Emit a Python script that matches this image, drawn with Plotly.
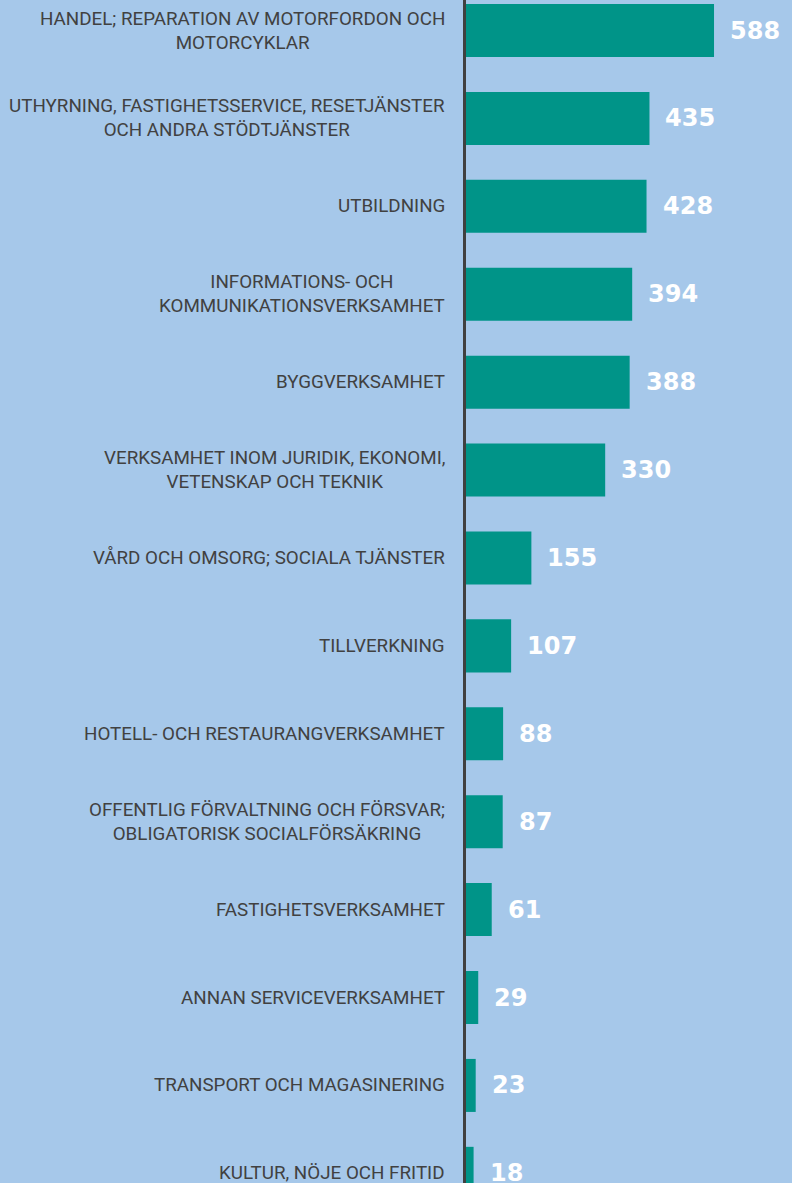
import plotly.graph_objects as go

categories = [
    "HANDEL; REPARATION AV MOTORFORDON OCH<br>MOTORCYKLAR",
    "UTHYRNING, FASTIGHETSSERVICE, RESETJÄNSTER<br>OCH ANDRA STÖDTJÄNSTER",
    "UTBILDNING",
    "INFORMATIONS- OCH<br>KOMMUNIKATIONSVERKSAMHET",
    "BYGGVERKSAMHET",
    "VERKSAMHET INOM JURIDIK, EKONOMI,<br>VETENSKAP OCH TEKNIK",
    "VÅRD OCH OMSORG; SOCIALA TJÄNSTER",
    "TILLVERKNING",
    "HOTELL- OCH RESTAURANGVERKSAMHET",
    "OFFENTLIG FÖRVALTNING OCH FÖRSVAR;<br>OBLIGATORISK SOCIALFÖRSÄKRING",
    "FASTIGHETSVERKSAMHET",
    "ANNAN SERVICEVERKSAMHET",
    "TRANSPORT OCH MAGASINERING",
    "KULTUR, NÖJE OCH FRITID",
]
values = [588, 435, 428, 394, 388, 330, 155, 107, 88, 87, 61, 29, 23, 18]

BG = "#a6c8ea"
BAR = "#009488"
TXT = "#414141"

idx = list(range(len(categories)))

fig = go.Figure()
fig.add_trace(go.Bar(
    x=values, y=idx, orientation="h",
    marker=dict(color=BAR, line=dict(width=0)),
    width=0.603, hoverinfo="skip",
))

annotations = []
for i, (c, v) in enumerate(zip(categories, values)):
    annotations.append(dict(
        x=0, y=i, xref="x", yref="y", text=c, showarrow=False,
        xanchor="right", yanchor="middle", align="center", xshift=-19,
        font=dict(family="Roboto", size=18.8, color=TXT),
    ))
    annotations.append(dict(
        x=v, y=i, xref="x", yref="y", text=str(v), showarrow=False,
        xanchor="left", yanchor="middle", xshift=14,
        font=dict(family="DejaVu Sans", size=24, color="white", weight="bold"),
    ))

fig.update_layout(
    width=792, height=1183,
    margin=dict(l=0, r=0, t=0, b=0),
    paper_bgcolor=BG, plot_bgcolor=BG,
    showlegend=False,
    annotations=annotations,
    xaxis=dict(domain=[466/792, 1], range=[0, (792-466)/0.4218],
               showgrid=False, zeroline=False, showticklabels=False, showline=False),
    yaxis=dict(range=[13.11, -0.347], showgrid=False, zeroline=False,
               showticklabels=False, showline=True, linecolor="#404040", linewidth=3,
               ticks=""),
)

fig.write_html("out.html", config={"displayModeBar": False},
               post_script="document.body.style.margin='0';document.body.style.padding='0';")
